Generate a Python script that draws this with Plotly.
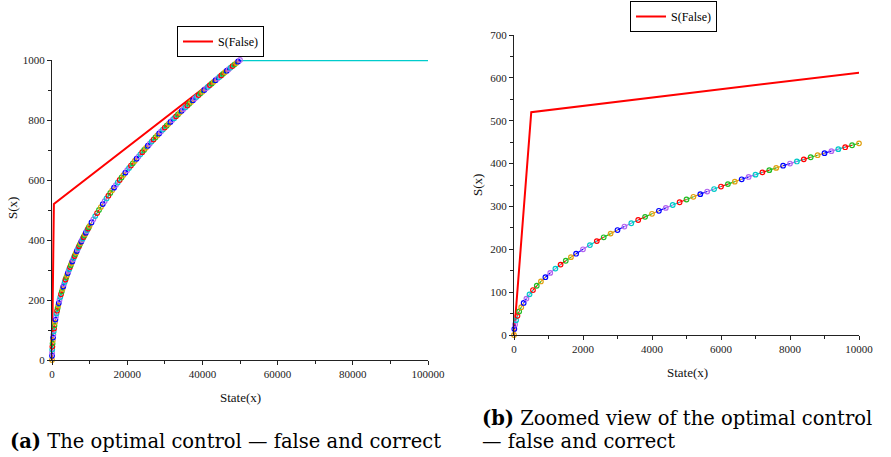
import plotly.graph_objects as go

# ---- data ----
state_x = [0, 10, 30, 60, 100, 150, 210, 280, 360, 450, 550, 660, 780, 910, 1050, 1200,
           1350, 1500, 1650, 1800, 2000, 2200, 2400, 2600, 2800, 3000, 3200, 3400, 3600,
           3800, 4000, 4200, 4400, 4600, 4800, 5000, 5200, 5400, 5600, 5800, 6000, 6200,
           6400, 6600, 6800, 7000, 7200, 7400, 7600, 7800, 8000, 8200, 8400, 8600, 8800,
           9000, 9200, 9400, 9600, 9800, 10000, 10500, 11000, 11500, 12000, 12500, 13000,
           13500, 14000, 14500, 15000, 15500, 16000, 16500, 17000, 17500, 18000, 18500,
           19000, 19500, 20000, 20500, 21000, 21500, 22000, 22500, 23000, 23500, 24000,
           24500, 25000, 25500, 26000, 26500, 27000, 27500, 28000, 28500, 29000, 29500,
           30000, 30500, 31000, 31500, 32000, 32500, 33000, 33500, 34000, 34500, 35000,
           35500, 36000, 36500, 37000, 37500, 38000, 38500, 39000, 39500, 40000, 40500,
           41000, 41500, 42000, 42500, 43000, 43500, 44000, 44500, 45000, 45500, 46000,
           46500, 47000, 47500, 48000, 48500, 49000, 49500, 50000]
s_correct = [0, 14.1, 24.5, 34.6, 44.7, 54.8, 64.8, 74.8, 84.9, 94.9, 104.9, 114.9, 124.9,
             134.9, 144.9, 154.9, 164.3, 173.2, 181.7, 189.7, 200.0, 209.8, 219.1, 228.0,
             236.6, 244.9, 253.0, 260.8, 268.3, 275.7, 282.8, 289.8, 296.6, 303.3, 309.8,
             316.2, 322.5, 328.6, 334.7, 340.6, 346.4, 352.1, 357.8, 363.3, 368.8, 374.2,
             379.5, 384.7, 389.9, 395.0, 400.0, 405.0, 409.9, 414.7, 419.5, 424.3, 429.0,
             433.6, 438.2, 442.7, 447.2, 458.3, 469.0, 479.6, 489.9, 500.0, 509.9,
             519.6, 529.2, 538.5, 547.7, 556.8, 565.7, 574.5, 583.1, 591.6, 600.0, 608.3,
             616.4, 624.5, 632.5, 640.3, 648.1, 655.7, 663.3, 670.8, 678.2, 685.6, 692.8,
             700.0, 707.1, 714.1, 721.1, 728.0, 734.8, 741.6, 748.3, 755.0, 761.6, 768.1,
             774.6, 781.0, 787.4, 793.7, 800.0, 806.2, 812.4, 818.5, 824.6, 830.7, 836.7,
             842.6, 848.5, 854.4, 860.2, 866.0, 871.8, 877.5, 883.2, 888.8, 894.4, 900.0,
             905.5, 911.0, 916.5, 922.0, 927.4, 932.7, 938.1, 943.4, 948.7, 953.9, 959.2,
             964.4, 969.5, 974.7, 979.8, 984.9, 989.9, 995.0, 1000.0]
flat_x = [50000, 100000]
flat_s = [1000, 1000]
false_x = [0, 500, 50000, 100000]
false_s = [0, 520, 1000, 1000]

palette = ["#e0a010", "#0000ff", "#b264f0", "#00c8c8", "#ff0000", "#22bb22"]

SERIF = "Liberation Serif"

fig = go.Figure()


def add_correct(xs, ys, xa, ya):
    n = len(xs)
    for k, col in enumerate(palette):
        sx, sy = [], []
        for i in range(n - 1):
            if i % len(palette) == k:
                sx += [xs[i], xs[i + 1], None]
                sy += [ys[i], ys[i + 1], None]
        fig.add_trace(go.Scatter(x=sx, y=sy, mode="lines", xaxis=xa, yaxis=ya,
                                 line=dict(color=col, width=1.2), showlegend=False,
                                 hoverinfo="skip"))
    cols = [palette[i % len(palette)] for i in range(n)]
    fig.add_trace(go.Scatter(x=xs, y=ys, mode="markers", xaxis=xa, yaxis=ya,
                             marker=dict(symbol="circle-open", size=4.6, color=cols,
                                         line=dict(width=1.2, color=cols)),
                             cliponaxis=False, showlegend=False))


# left panel
fig.add_trace(go.Scatter(x=false_x, y=false_s, mode="lines", name="S(False)",
                         line=dict(color="#ff0000", width=2), xaxis="x", yaxis="y",
                         legend="legend"))
fig.add_trace(go.Scatter(x=flat_x, y=flat_s, mode="lines", xaxis="x", yaxis="y",
                         line=dict(color="#00cccc", width=2.6), showlegend=False))
add_correct(state_x, s_correct, "x", "y")

# right panel (zoom)
fig.add_trace(go.Scatter(x=false_x, y=false_s, mode="lines", name="S(False)",
                         line=dict(color="#ff0000", width=2), xaxis="x2", yaxis="y2",
                         legend="legend2"))
rx = [x for x in state_x if x <= 10000]
ry = [s for x, s in zip(state_x, s_correct) if x <= 10000]
add_correct(rx, ry, "x2", "y2")

W, H = 891, 457


def px_x(p):
    return p / W


def px_y(p):
    return 1 - p / H


axis_common = dict(showline=True, linecolor="#222", linewidth=1.3, showgrid=False,
                   zeroline=False, ticks="outside", ticklen=4, tickcolor="#222",
                   automargin=False, tickformat="d",
                   tickfont=dict(family=SERIF, size=11, color="#222"))

legend_common = dict(xanchor="left", yanchor="top", bordercolor="black", borderwidth=1,
                     bgcolor="white", font=dict(family=SERIF, size=12, color="black"),
                     itemwidth=30, tracegroupgap=0)

fig.update_layout(
    width=W, height=H, autosize=False,
    margin=dict(l=0, r=0, t=0, b=0, pad=0, autoexpand=False),
    paper_bgcolor="white", plot_bgcolor="white",
    xaxis=dict(domain=[px_x(52), px_x(428)], range=[0, 100000], anchor="y",
               tickvals=[0, 20000, 40000, 60000, 80000, 100000],
               minor=dict(dtick=10000, ticks="outside", ticklen=3, tickcolor="#222"),
               **axis_common),
    yaxis=dict(domain=[px_y(360), px_y(60)], range=[0, 1000], anchor="x",
               dtick=200, minor=dict(dtick=100, ticks="outside", ticklen=3, tickcolor="#222"),
               **axis_common),
    xaxis2=dict(domain=[px_x(514), px_x(859)], range=[0, 10000], anchor="y2",
                dtick=2000, minor=dict(dtick=1000, ticks="outside", ticklen=3, tickcolor="#222"),
                **axis_common),
    yaxis2=dict(domain=[px_y(335), px_y(35)], range=[0, 700], anchor="x2",
                dtick=100, minor=dict(dtick=50, ticks="outside", ticklen=3, tickcolor="#222"),
                **axis_common),
    legend=dict(x=px_x(177), y=px_y(26), **legend_common),
    legend2=dict(x=px_x(630), y=px_y(1), **legend_common),
)

ann_font = dict(family=SERIF, size=13, color="#111")
annotations = [
    dict(text="S(x)", x=px_x(12), y=px_y(208), textangle=-90, font=ann_font),
    dict(text="State(x)", x=px_x(240), y=px_y(397), font=ann_font),
    dict(text="S(x)", x=px_x(477), y=px_y(185), textangle=-90, font=ann_font),
    dict(text="State(x)", x=px_x(687), y=px_y(372), font=ann_font),
]
for a in annotations:
    a.update(xref="paper", yref="paper", showarrow=False, xanchor="center", yanchor="middle")

cap_font = dict(family="DejaVu Serif", size=19.5, color="black")
captions = [
    dict(text="<b>(a)</b> The optimal control — false and correct", x=px_x(8), y=px_y(441)),
    dict(text="<b>(b)</b> Zoomed view of the optimal control", x=px_x(480), y=px_y(418)),
    dict(text="— false and correct", x=px_x(480), y=px_y(441)),
]
for c in captions:
    c.update(xref="paper", yref="paper", showarrow=False, xanchor="left", yanchor="middle",
             font=cap_font)

fig.update_layout(annotations=annotations + captions)

fig.write_html("out.html")
